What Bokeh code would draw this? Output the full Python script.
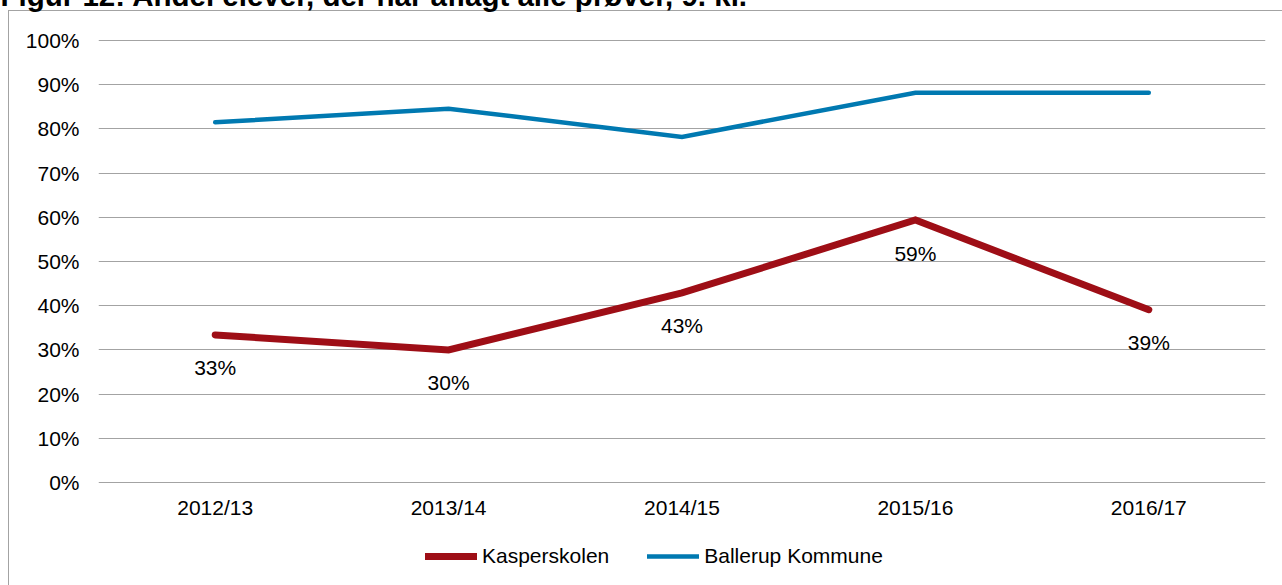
from bokeh.plotting import figure
from bokeh.models import (FactorRange, Range1d, PrintfTickFormatter, Legend, LegendItem,
                          ColumnDataSource, FixedTicker)
from bokeh.core.properties import value
from bokeh.embed import file_html
from bokeh.resources import INLINE

categories = ["2012/13", "2013/14", "2014/15", "2015/16", "2016/17"]
kasperskolen = [33.4, 30.0, 42.9, 59.4, 39.1]
ballerup = [81.5, 84.6, 78.2, 88.2, 88.2]
kasper_labels = ["33%", "30%", "43%", "59%", "39%"]
y_ticks = [0, 10, 20, 30, 40, 50, 60, 70, 80, 90, 100]
title_text = "Figur 12: Andel elever, der har aflagt alle prøver, 9. kl."

FONT = "Liberation Sans"
RED = "#9E0E16"
BLUE = "#0079B1"
GRID = "#A3A3A3"

T = 60  # part of the canvas pushed above the window top
W, H = 1282, 585 + T

box_css = {
    "background-color": "white",
    "background-image": f"linear-gradient({GRID}, {GRID}), linear-gradient({GRID}, {GRID})",
    "background-size": "1px 100%, 100% 1px",
    "background-position": f"8px {10 + T}px, 8px {10 + T}px",
    "background-repeat": "no-repeat",
}

# frame spans window y 39..580; 0% sits at y=482, 100% at y=40
p = figure(
    width=W, height=H,
    x_range=FactorRange(factors=categories, range_padding=0),
    y_range=Range1d(-22.18, 100.25),
    output_backend="svg", toolbar_location=None,
    min_border_left=98, min_border_right=17, min_border_top=39 + T, min_border_bottom=5,
    margin=(-T, 0, 0, 0),
    styles=box_css,
)
p.outline_line_color = None
p.background_fill_alpha = 0
p.border_fill_alpha = 0

p.title.text = title_text
p.title.align = "left"
p.title.offset = -98
p.title.standoff = 56
p.title.text_font = FONT
p.title.text_font_size = "29.5px"
p.title.text_font_style = "bold"
p.title.text_color = "#000000"

# axes
p.yaxis.ticker = FixedTicker(ticks=y_ticks)
p.yaxis.formatter = PrintfTickFormatter(format="%d%%")
for ax in (p.xaxis[0], p.yaxis[0]):
    ax.axis_line_color = None
    ax.major_tick_line_color = None
    ax.minor_tick_line_color = None
    ax.major_tick_out = 0
    ax.major_tick_in = 0
    ax.major_label_text_font = FONT
    ax.major_label_text_font_size = "21px"
    ax.major_label_text_color = "#000000"
p.yaxis.major_label_standoff = 19
p.xaxis.major_label_standoff = -85

p.xgrid.grid_line_color = None
p.ygrid.grid_line_color = GRID
p.ygrid.grid_line_width = 1

src = ColumnDataSource(dict(cat=categories, k=kasperskolen, b=ballerup, lab=kasper_labels))

r_k = p.line("cat", "k", source=src, line_color=RED, line_width=7, line_join="miter", line_cap="round")
r_b = p.line("cat", "b", source=src, line_color=BLUE, line_width=4.5, line_join="miter", line_cap="round")

p.text("cat", "k", text="lab", source=src, text_font=value(FONT), text_font_size="21px",
       text_color="#000000", text_align="center", text_baseline="middle", y_offset=33)

legend = Legend(
    items=[LegendItem(label="Kasperskolen", renderers=[r_k]),
           LegendItem(label="Ballerup Kommune", renderers=[r_b])],
    orientation="horizontal", location=(327, 12),
    glyph_width=52, glyph_height=24, label_height=24, label_standoff=5, spacing=38,
    padding=0, margin=0, border_line_color=None, background_fill_alpha=0,
    label_text_font=FONT, label_text_font_size="21px", label_text_color="#000000",
)
p.add_layout(legend, "center")

open("out.html", "w").write(file_html(p, INLINE))
